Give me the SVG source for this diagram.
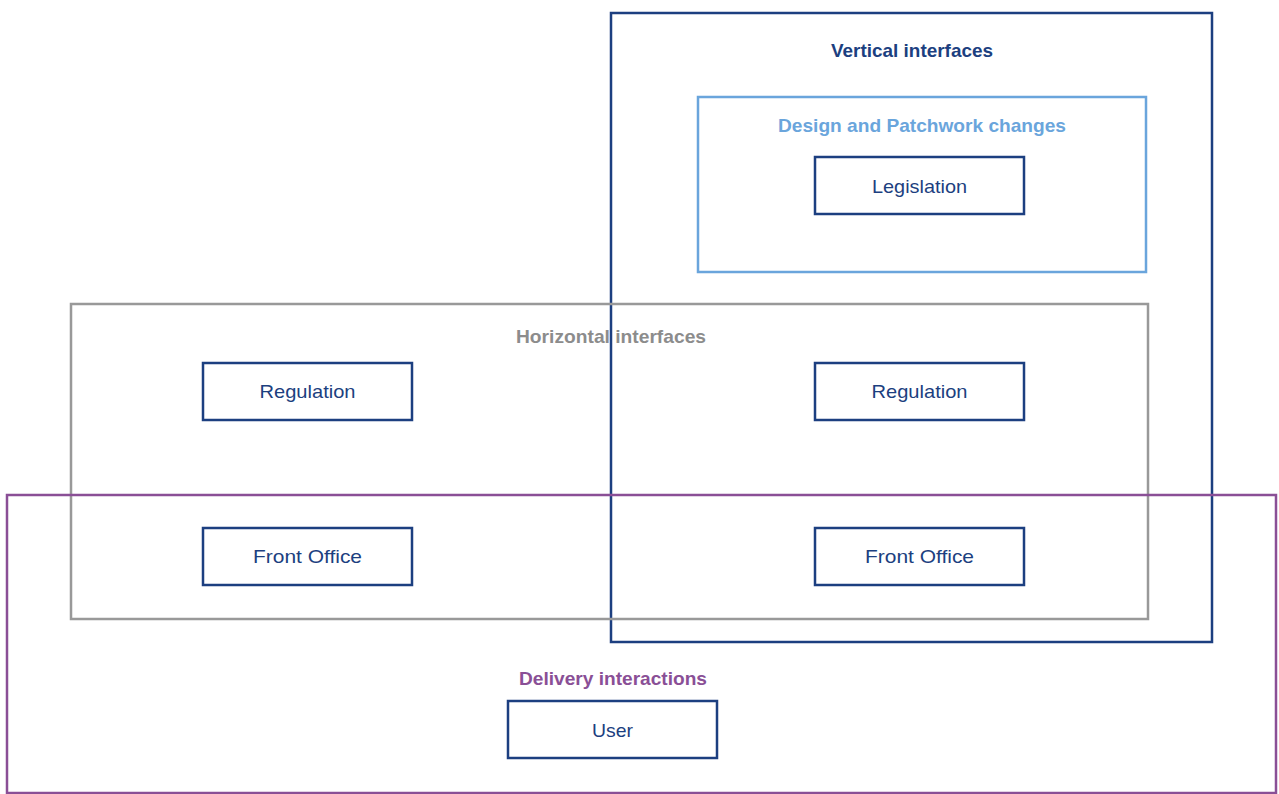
<svg xmlns="http://www.w3.org/2000/svg" width="1279" height="794" viewBox="0 0 1279 794">
<style>
.frame{fill:none;stroke-width:2.5}
.node rect{fill:#fff;stroke:#1c3f80;stroke-width:2.5}
.node text{font-family:"Liberation Sans",Arial,sans-serif;font-size:19px;fill:#1c3f80;text-anchor:middle}
.title{font-family:"Liberation Sans",Arial,sans-serif;font-size:19px;font-weight:bold;text-anchor:middle}
</style>
<rect width="1279" height="794" fill="#fff"/>
<g id="vertical">
<rect class="frame" x="611" y="13" width="601" height="629" stroke="#1c3f80"/>
<text class="title" x="912" y="57" fill="#1c3f80" textLength="162" lengthAdjust="spacingAndGlyphs">Vertical interfaces</text>
</g>
<g id="design">
<rect class="frame" x="698" y="97" width="448" height="175" stroke="#6aa5dc"/>
<text class="title" x="922" y="132" fill="#6aa5dc" textLength="288" lengthAdjust="spacingAndGlyphs">Design and Patchwork changes</text>
</g>
<g id="horizontal">
<rect class="frame" x="71" y="304" width="1077" height="315" stroke="#999"/>
<text class="title" x="611" y="343" fill="#8c8c8c" textLength="190" lengthAdjust="spacingAndGlyphs">Horizontal interfaces</text>
</g>
<g id="delivery">
<rect class="frame" x="7" y="495" width="1269" height="298" stroke="#8a4f96"/>
<text class="title" x="613" y="685" fill="#8a4f96" textLength="188" lengthAdjust="spacingAndGlyphs">Delivery interactions</text>
</g>
<g id="legislation" class="node">
<rect x="815" y="157" width="209" height="57"/>
<text x="919.5" y="193" textLength="95" lengthAdjust="spacingAndGlyphs">Legislation</text>
</g>
<g id="regulation-left" class="node">
<rect x="203" y="363" width="209" height="57"/>
<text x="307.5" y="398" textLength="96" lengthAdjust="spacingAndGlyphs">Regulation</text>
</g>
<g id="regulation-right" class="node">
<rect x="815" y="363" width="209" height="57"/>
<text x="919.5" y="398" textLength="96" lengthAdjust="spacingAndGlyphs">Regulation</text>
</g>
<g id="frontoffice-left" class="node">
<rect x="203" y="528" width="209" height="57"/>
<text x="307.5" y="563" textLength="109" lengthAdjust="spacingAndGlyphs">Front Office</text>
</g>
<g id="frontoffice-right" class="node">
<rect x="815" y="528" width="209" height="57"/>
<text x="919.5" y="563" textLength="109" lengthAdjust="spacingAndGlyphs">Front Office</text>
</g>
<g id="user" class="node">
<rect x="508" y="701" width="209" height="57"/>
<text x="612.5" y="737" textLength="41" lengthAdjust="spacingAndGlyphs">User</text>
</g>
<g id="connectors"></g>
</svg>
